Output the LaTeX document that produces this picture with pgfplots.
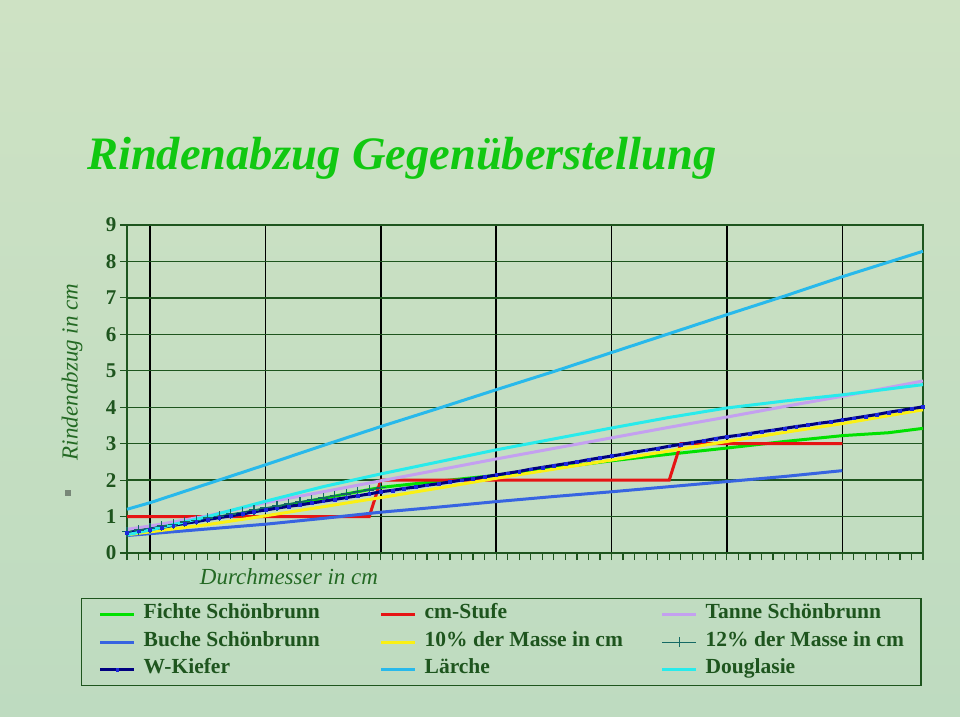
\documentclass[border=0pt]{standalone}
\usepackage{fontspec}
\setmainfont{Liberation Serif}
\usepackage{pgfplots}
\pgfplotsset{compat=1.18}

\definecolor{bg1}{RGB}{206,226,196}
\definecolor{bg2}{RGB}{190,219,192}
\definecolor{gridgreen}{RGB}{30,85,30}
\definecolor{labgreen}{RGB}{35,105,35}
\definecolor{titlegreen}{RGB}{17,200,17}
\definecolor{fichte}{RGB}{0,225,0}
\definecolor{stufe}{RGB}{230,20,20}
\definecolor{tanne}{RGB}{196,160,240}
\definecolor{buche}{RGB}{55,100,225}
\definecolor{zehn}{RGB}{250,240,20}
\definecolor{zwoelf}{RGB}{20,105,100}
\definecolor{kiefer}{RGB}{0,0,128}
\definecolor{kiefermark}{RGB}{30,40,220}
\definecolor{laerche}{RGB}{40,185,235}
\definecolor{douglasie}{RGB}{40,235,235}

\begin{document}
\begin{tikzpicture}
\useasboundingbox (0pt,0pt) rectangle (960pt,716pt);
\shade[top color=bg1, bottom color=bg2] (0pt,0pt) rectangle (960pt,716pt);
\node[anchor=base west, text=titlegreen, inner sep=0pt,
  font=\fontsize{46.5}{50}\selectfont\bfseries\itshape] at (87pt,546pt)
  {Rindenabzug Gegenüberstellung};
\node[fill={rgb,255:red,120;green,135;blue,120}, minimum size=6pt, inner sep=0pt] at (68pt,223pt) {};

\begin{axis}[
  at={(127pt,163pt)}, anchor=south west,
  scale only axis, width=796pt, height=328pt,
  xmin=8, xmax=77, ymin=0, ymax=9,
  xtick={10,20,...,70}, xticklabels={},
  minor xtick={8,9,...,77},
  ytick={0,1,...,9},
  xtick pos=bottom, ytick pos=left,
  tick align=outside,
  major tick length=7pt, minor tick length=7pt,
  tick style={gridgreen, line width=1.2pt},
  xmajorgrids, ymajorgrids,
  x grid style={black, line width=1.5pt},
  y grid style={gridgreen, line width=1.4pt},
  axis line style={gridgreen, line width=1.4pt},
  /pgf/number format/assume math mode=true,
  yticklabel style={font=\fontsize{21}{21}\selectfont\bfseries, text=gridgreen},
  xlabel={Durchmesser in cm},
  ylabel={Rindenabzug in cm},
  label style={font=\fontsize{23}{23}\selectfont\itshape, text=labgreen},
  xlabel style={at={(axis description cs:0.2035,-0.0732)}, anchor=center},
  ylabel style={at={(axis description cs:-0.0691,0.552)}, anchor=center},
  clip=false,
  legend columns=3,
  legend cell align=left,
  legend image code/.code={\draw[mark repeat=2,mark phase=2,#1] plot coordinates {(0pt,0pt) (17pt,0pt) (34pt,0pt)};},
  legend style={at={(-0.0578,-0.1372)}, anchor=north west,
    draw=gridgreen, line width=1.4pt, fill=none,
    inner xsep=17pt, inner ysep=6pt, row sep=7.5pt,
    font=\fontsize{21.5}{21.5}\selectfont\bfseries, text=gridgreen,
    nodes={inner sep=0pt, text height=14pt, text depth=6pt},
    /tikz/every odd column/.style={column sep=8pt},
    /tikz/every even column/.style={column sep=8pt}},
]

% Fichte Schoenbrunn
\addplot[fichte, line width=3pt] coordinates {
  (8,0.55) (10,0.65) (15,0.93) (20,1.20) (25,1.50) (30,1.80) (35,1.97)
  (40,2.13) (45,2.33) (50,2.53) (55,2.71) (60,2.88) (65,3.06) (70,3.22)
  (74,3.30) (77,3.42)
};
\addlegendentry{\makebox[228pt][l]{Fichte Schönbrunn}}

% cm-Stufe
\addplot[stufe, line width=3pt] coordinates {
  (8,1) (29,1) (30,2) (55,2) (56,3) (70,3)
};
\addlegendentry{\makebox[228pt][l]{cm-Stufe}}

% Tanne Schoenbrunn
\addplot[tanne, line width=3pt] coordinates {
  (8,0.65) (10,0.74) (15,1.02) (20,1.38) (25,1.68) (30,1.98) (35,2.28)
  (40,2.58) (45,2.87) (50,3.16) (55,3.45) (60,3.73) (65,4.02) (70,4.30)
  (77,4.72)
};
\addlegendentry{Tanne Schönbrunn}

% Buche Schoenbrunn
\addplot[buche, line width=3pt] coordinates {
  (8,0.48) (10,0.53) (15,0.66) (20,0.79) (25,0.95) (30,1.12) (35,1.26)
  (40,1.41) (45,1.55) (50,1.68) (55,1.82) (60,1.96) (65,2.10) (70,2.26)
};
\addlegendentry{\makebox[228pt][l]{Buche Schönbrunn}}

% 10% der Masse
\addplot[zehn, line width=3pt] coordinates {
  (8,0.50) (10,0.58) (15,0.78) (20,1.02) (25,1.27) (30,1.52) (35,1.78)
  (40,2.05) (45,2.30) (50,2.55) (55,2.80) (60,3.06) (65,3.31) (70,3.55)
  (77,3.93)
};
\addlegendentry{\makebox[228pt][l]{10\% der Masse in cm}}

% 12% der Masse
\addplot[zwoelf, line width=1.2pt, mark=+, mark size=5pt] coordinates {
  (8,0.58) (9,0.63) (10,0.68) (11,0.74) (12,0.79) (13,0.85) (14,0.90)
  (15,0.96) (16,1.01) (17,1.07) (18,1.12) (19,1.18) (20,1.24) (21,1.29)
  (22,1.35) (23,1.40) (24,1.46) (25,1.51) (26,1.57) (27,1.62) (28,1.68)
  (29,1.73) (30,1.79)
};
\addlegendentry{12\% der Masse in cm}

% W-Kiefer
\addplot[kiefer, line width=3pt, mark=square*, mark size=1.4pt,
  mark options={fill=kiefermark, draw=kiefermark, line width=0.4pt}] coordinates {
  (8,0.55) (9,0.60) (10,0.65) (11,0.70) (12,0.76) (13,0.81) (14,0.86)
  (15,0.92) (16,0.97) (17,1.02) (18,1.07) (19,1.13) (20,1.18) (21,1.23)
  (22,1.28) (23,1.32) (24,1.37) (25,1.42) (26,1.47) (27,1.52) (28,1.57)
  (29,1.62) (30,1.68) (31,1.72) (32,1.77) (33,1.81) (34,1.86) (35,1.90)
  (36,1.95) (37,2.00) (38,2.04) (39,2.09) (40,2.14) (41,2.19) (42,2.24)
  (43,2.30) (44,2.35) (45,2.40) (46,2.45) (47,2.50) (48,2.56) (49,2.61)
  (50,2.66) (51,2.71) (52,2.77) (53,2.82) (54,2.87) (55,2.93) (56,2.98)
  (57,3.03) (58,3.08) (59,3.14) (60,3.19) (61,3.23) (62,3.28) (63,3.33)
  (64,3.37) (65,3.42) (66,3.47) (67,3.51) (68,3.56) (69,3.60) (70,3.65)
  (71,3.70) (72,3.75) (73,3.80) (74,3.86) (75,3.91) (76,3.96) (77,4.01)
};
\addlegendentry{\makebox[228pt][l]{W-Kiefer}}

% Laerche
\addplot[laerche, line width=3pt] coordinates {
  (8,1.20) (10,1.38) (15,1.90) (20,2.42) (25,2.95) (30,3.47) (35,3.97)
  (40,4.48) (45,4.98) (50,5.50) (55,6.02) (60,6.54) (65,7.05) (70,7.58)
  (77,8.28)
};
\addlegendentry{\makebox[228pt][l]{Lärche}}

% Douglasie
\addplot[douglasie, line width=3pt] coordinates {
  (8,0.50) (10,0.63) (12,0.78) (15,1.00) (20,1.42) (25,1.82) (30,2.17)
  (35,2.50) (40,2.83) (45,3.13) (50,3.43) (55,3.72) (60,3.98) (65,4.17)
  (70,4.34) (77,4.62)
};
\addlegendentry{Douglasie}

\end{axis}
\end{tikzpicture}
\end{document}
